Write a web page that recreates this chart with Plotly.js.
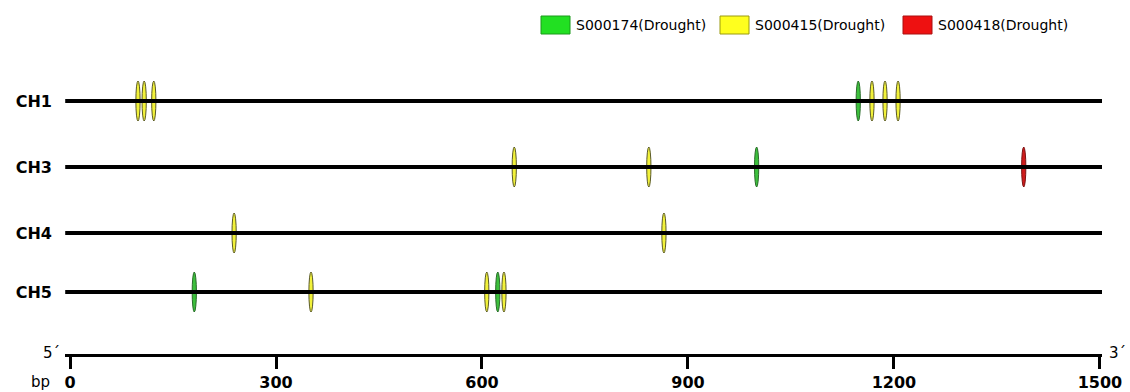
<!DOCTYPE html>
<html><head><meta charset="utf-8">
<script src="https://cdn.plot.ly/plotly-3.0.1.min.js"></script>
<style>html,body{margin:0;padding:0;background:#fff}</style>
</head><body><div id="chart" style="width:1130px;height:392px"></div>
<script>
// ---- data ----
const chromosomes = ['CH1', 'CH3', 'CH4', 'CH5'];
const trackY = [253, 187, 121, 62];
const chromStart = -7;
const chromEnd = 1503;
const motifs = ['S000174(Drought)', 'S000415(Drought)', 'S000418(Drought)'];
const ch1Pos = [99, 108, 122, 1148, 1168, 1187, 1206];
const ch1Motif = [1, 1, 1, 0, 1, 1, 1];
const ch3Pos = [647, 843, 1000, 1389];
const ch3Motif = [1, 1, 0, 2];
const ch4Pos = [239, 865];
const ch4Motif = [1, 1];
const ch5Pos = [181, 351, 607, 623, 632];
const ch5Motif = [0, 1, 1, 0, 1];
const tickVals = [0, 300, 600, 900, 1200, 1500];
const tickText = ['0', '300', '600', '900', '1200', '1500'];

// ---- style ----
const legendFill = ['#22e022', '#ffff1e', '#ee1111'];
const legendLine = ['#1a9a1a', '#9a9a10', '#aa1010'];
const siteFill = ['#3cc03c', '#f2f23a', '#d01c1c'];
const siteLine = ['#2a6a2a', '#5a5a28', '#7a1414'];
const M = {l: 65, r: 28, t: 50, b: 38};
const W = 1130 - M.l - M.r, H = 392 - M.t - M.b;
const px = x => (x - M.l) / W;
const py = y => (392 - M.b - y) / H;
const FONT = 'DejaVu Sans, Arial, sans-serif';

const sitesByChrom = [[ch1Pos, ch1Motif], [ch3Pos, ch3Motif], [ch4Pos, ch4Motif], [ch5Pos, ch5Motif]];

const traces = chromosomes.map((c, i) => ({
  type: 'scatter', mode: 'lines', x: [chromStart, chromEnd], y: [trackY[i], trackY[i]],
  line: {color: '#000', width: 4}, showlegend: false, hoverinfo: 'skip', name: c
}));

const shapes = [];
sitesByChrom.forEach(([pos, mot], i) => {
  pos.forEach((p, j) => {
    const m = mot[j];
    shapes.push({type: 'circle', xref: 'x', yref: 'y', layer: 'below',
      x0: p - 3.1, x1: p + 3.1, y0: trackY[i] - 20, y1: trackY[i] + 20,
      fillcolor: siteFill[m], line: {color: siteLine[m], width: 1}});
  });
});

const annotations = [];
const legendX = [541, 720, 903];
motifs.forEach((m, k) => {
  shapes.push({type: 'rect', xref: 'paper', yref: 'paper',
    x0: px(legendX[k]), x1: px(legendX[k] + 29), y0: py(34), y1: py(16),
    fillcolor: legendFill[k], line: {color: legendLine[k], width: 1}});
  annotations.push({xref: 'paper', yref: 'paper', x: px(legendX[k] + 33), y: py(25.5),
    xanchor: 'left', yanchor: 'middle', showarrow: false, text: m,
    font: {family: FONT, size: 14, color: '#000'}});
});
annotations.push({xref: 'paper', yref: 'paper', x: px(51), y: py(353), xanchor: 'center', yanchor: 'middle',
  showarrow: false, text: '5´', font: {family: FONT, size: 15, color: '#000'}});
annotations.push({xref: 'paper', yref: 'paper', x: px(1117), y: py(353), xanchor: 'center', yanchor: 'middle',
  showarrow: false, text: '3´', font: {family: FONT, size: 15, color: '#000'}});
annotations.push({xref: 'paper', yref: 'paper', x: px(40), y: py(382), xanchor: 'center', yanchor: 'middle',
  showarrow: false, text: 'bp', font: {family: FONT, size: 15, color: '#000'}});

const layout = {
  width: 1130, height: 392,
  margin: M,
  paper_bgcolor: '#fff', plot_bgcolor: '#fff',
  showlegend: false,
  xaxis: {range: [-7.3, 1503], tickvals: tickVals, ticktext: tickText,
    ticks: 'outside', ticklen: 12, tickwidth: 3, tickcolor: '#000',
    showline: true, linewidth: 3, linecolor: '#000', showgrid: false, zeroline: false,
    tickfont: {family: FONT, size: 16, weight: 'bold', color: '#000'}, ticklabelstandoff: 0},
  yaxis: {range: [0, H], tickvals: trackY, ticktext: chromosomes, ticks: '',
    showline: false, showgrid: false, zeroline: false, ticklabelstandoff: 12,
    tickfont: {family: FONT, size: 16, weight: 'bold', color: '#000'}},
  shapes: shapes,
  annotations: annotations
};

Plotly.newPlot('chart', traces, layout, {displayModeBar: false, staticPlot: true});
</script>
</body></html>
